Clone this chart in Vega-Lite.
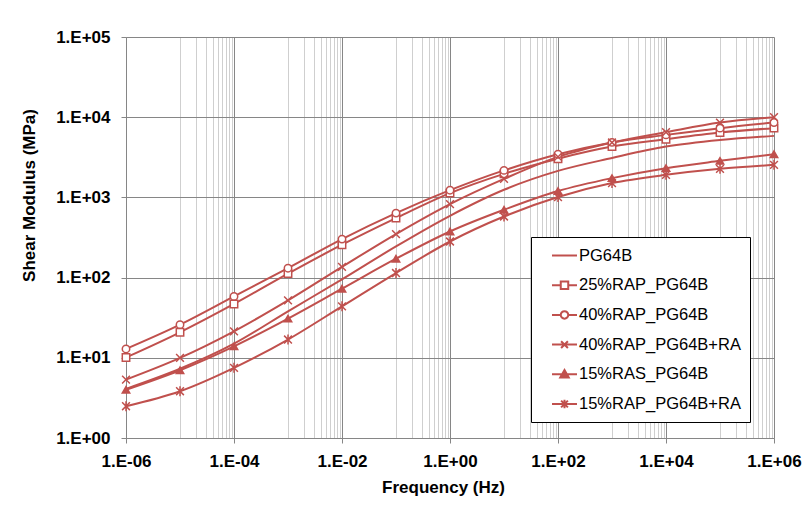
{
  "$schema": "https://vega.github.io/schema/vega-lite/v6.json",
  "width": 648,
  "height": 401,
  "autosize": {"type": "none"},
  "padding": {"left": 126, "top": 37, "right": 38, "bottom": 79},
  "background": "white",
  "config": {
    "view": {"stroke": null},
    "font": "Liberation Sans",
    "axis": {"gridOpacity": 1, "labelFont": "Liberation Sans", "titleFont": "Liberation Sans"},
    "legend": {"labelFont": "Liberation Sans"}
  },
  "data": {
    "values": [
      {"s": "PG64B", "f": 0.000001, "g": 4.1}, {"s": "PG64B", "f": 0.00001, "g": 7.3}, {"s": "PG64B", "f": 0.0001, "g": 15.0}, {"s": "PG64B", "f": 0.001, "g": 38}, {"s": "PG64B", "f": 0.01, "g": 95}, {"s": "PG64B", "f": 0.1, "g": 245}, {"s": "PG64B", "f": 1, "g": 590}, {"s": "PG64B", "f": 10, "g": 1245}, {"s": "PG64B", "f": 100, "g": 2140}, {"s": "PG64B", "f": 1000, "g": 3100}, {"s": "PG64B", "f": 10000, "g": 4300}, {"s": "PG64B", "f": 100000, "g": 5200}, {"s": "PG64B", "f": 1000000, "g": 5850},
      {"s": "25%RAP_PG64B", "f": 0.000001, "g": 10.1}, {"s": "25%RAP_PG64B", "f": 0.00001, "g": 20.8}, {"s": "25%RAP_PG64B", "f": 0.0001, "g": 46.9}, {"s": "25%RAP_PG64B", "f": 0.001, "g": 112}, {"s": "25%RAP_PG64B", "f": 0.01, "g": 257}, {"s": "25%RAP_PG64B", "f": 0.1, "g": 552}, {"s": "25%RAP_PG64B", "f": 1, "g": 1130}, {"s": "25%RAP_PG64B", "f": 10, "g": 1967}, {"s": "25%RAP_PG64B", "f": 100, "g": 3040}, {"s": "25%RAP_PG64B", "f": 1000, "g": 4300}, {"s": "25%RAP_PG64B", "f": 10000, "g": 5320}, {"s": "25%RAP_PG64B", "f": 100000, "g": 6440}, {"s": "25%RAP_PG64B", "f": 1000000, "g": 7300},
      {"s": "40%RAP_PG64B", "f": 0.000001, "g": 12.9}, {"s": "40%RAP_PG64B", "f": 0.00001, "g": 25.9}, {"s": "40%RAP_PG64B", "f": 0.0001, "g": 58.3}, {"s": "40%RAP_PG64B", "f": 0.001, "g": 131}, {"s": "40%RAP_PG64B", "f": 0.01, "g": 302}, {"s": "40%RAP_PG64B", "f": 0.1, "g": 637}, {"s": "40%RAP_PG64B", "f": 1, "g": 1230}, {"s": "40%RAP_PG64B", "f": 10, "g": 2170}, {"s": "40%RAP_PG64B", "f": 100, "g": 3450}, {"s": "40%RAP_PG64B", "f": 1000, "g": 4850}, {"s": "40%RAP_PG64B", "f": 10000, "g": 6020}, {"s": "40%RAP_PG64B", "f": 100000, "g": 7300}, {"s": "40%RAP_PG64B", "f": 1000000, "g": 8570},
      {"s": "40%RAP_PG64B+RA", "f": 0.000001, "g": 5.35}, {"s": "40%RAP_PG64B+RA", "f": 0.00001, "g": 9.97}, {"s": "40%RAP_PG64B+RA", "f": 0.0001, "g": 21.4}, {"s": "40%RAP_PG64B+RA", "f": 0.001, "g": 52}, {"s": "40%RAP_PG64B+RA", "f": 0.01, "g": 136}, {"s": "40%RAP_PG64B+RA", "f": 0.1, "g": 349}, {"s": "40%RAP_PG64B+RA", "f": 1, "g": 825}, {"s": "40%RAP_PG64B+RA", "f": 10, "g": 1700}, {"s": "40%RAP_PG64B+RA", "f": 100, "g": 3200}, {"s": "40%RAP_PG64B+RA", "f": 1000, "g": 4830}, {"s": "40%RAP_PG64B+RA", "f": 10000, "g": 6500}, {"s": "40%RAP_PG64B+RA", "f": 100000, "g": 8570}, {"s": "40%RAP_PG64B+RA", "f": 1000000, "g": 10000},
      {"s": "15%RAS_PG64B", "f": 0.000001, "g": 4.0}, {"s": "15%RAS_PG64B", "f": 0.00001, "g": 7.0}, {"s": "15%RAS_PG64B", "f": 0.0001, "g": 13.9}, {"s": "15%RAS_PG64B", "f": 0.001, "g": 30.8}, {"s": "15%RAS_PG64B", "f": 0.01, "g": 72.7}, {"s": "15%RAS_PG64B", "f": 0.1, "g": 172}, {"s": "15%RAS_PG64B", "f": 1, "g": 376}, {"s": "15%RAS_PG64B", "f": 10, "g": 701}, {"s": "15%RAS_PG64B", "f": 100, "g": 1200}, {"s": "15%RAS_PG64B", "f": 1000, "g": 1740}, {"s": "15%RAS_PG64B", "f": 10000, "g": 2316}, {"s": "15%RAS_PG64B", "f": 100000, "g": 2857}, {"s": "15%RAS_PG64B", "f": 1000000, "g": 3460},
      {"s": "15%RAP_PG64B+RA", "f": 0.000001, "g": 2.49}, {"s": "15%RAP_PG64B+RA", "f": 0.00001, "g": 3.83}, {"s": "15%RAP_PG64B+RA", "f": 0.0001, "g": 7.5}, {"s": "15%RAP_PG64B+RA", "f": 0.001, "g": 16.9}, {"s": "15%RAP_PG64B+RA", "f": 0.01, "g": 43.8}, {"s": "15%RAP_PG64B+RA", "f": 0.1, "g": 114}, {"s": "15%RAP_PG64B+RA", "f": 1, "g": 282}, {"s": "15%RAP_PG64B+RA", "f": 10, "g": 578}, {"s": "15%RAP_PG64B+RA", "f": 100, "g": 1010}, {"s": "15%RAP_PG64B+RA", "f": 1000, "g": 1508}, {"s": "15%RAP_PG64B+RA", "f": 10000, "g": 1911}, {"s": "15%RAP_PG64B+RA", "f": 100000, "g": 2270}, {"s": "15%RAP_PG64B+RA", "f": 1000000, "g": 2547}
    ]
  },
  "layer": [
    {
      "mark": {"type": "line", "interpolate": "monotone", "strokeWidth": 2, "color": "#C0504D"},
      "encoding": {
        "x": {
          "field": "f", "type": "quantitative",
          "scale": {"type": "log", "domain": [0.000001, 1000000], "nice": false},
          "axis": {
            "orient": "bottom",
            "values": [0.000001, 0.0001, 0.01, 1, 100, 10000, 1000000],
            "title": "Frequency (Hz)",
            "labelExpr": "'1.E' + (datum.value >= 1 ? '+' : '-') + (abs(round(log(datum.value)/LN10)) < 10 ? '0' : '') + abs(round(log(datum.value)/LN10))",
            "grid": true, "gridColor": "#868686", "domainColor": "#868686", "tickColor": "#868686", "tickSize": 5,
            "labelFontSize": 17, "labelFontWeight": "bold", "labelColor": "black", "labelPadding": 10,
            "labelFlush": false, "labelOverlap": false,
            "titleFontSize": 17, "titleFontWeight": "bold", "titleColor": "black", "titlePadding": 10, "titleX": 317
          }
        },
        "y": {
          "field": "g", "type": "quantitative",
          "scale": {"type": "log", "domain": [1, 100000], "nice": false},
          "axis": {
            "values": [1, 10, 100, 1000, 10000, 100000],
            "title": "Shear Modulus (MPa)",
            "labelExpr": "'1.E' + (datum.value >= 1 ? '+' : '-') + (abs(round(log(datum.value)/LN10)) < 10 ? '0' : '') + abs(round(log(datum.value)/LN10))",
            "grid": true, "gridColor": "#868686", "domainColor": "#868686", "tickColor": "#868686", "tickSize": 5,
            "labelFontSize": 17, "labelFontWeight": "bold", "labelColor": "black", "labelPadding": 11,
            "labelFlush": false, "labelOverlap": false,
            "titleFontSize": 17, "titleFontWeight": "bold", "titleColor": "black", "titlePadding": 17, "titleY": 158
          }
        },
        "detail": {"field": "s"}
      }
    },
    {
      "transform": [{"filter": "datum.s !== 'PG64B'"}],
      "mark": {"type": "point", "filled": true, "size": 55, "opacity": 1, "stroke": "#C0504D", "strokeWidth": 1.5},
      "encoding": {
        "x": {
          "field": "f", "type": "quantitative",
          "scale": {"type": "log", "domain": [0.000001, 1000000], "nice": false},
          "axis": {
            "orient": "bottom",
            "values": [0.00001, 0.00002, 0.00003, 0.00004, 0.00005, 0.00006, 0.00007, 0.00008, 0.00009,
                       0.001, 0.002, 0.003, 0.004, 0.005, 0.006, 0.007, 0.008, 0.009,
                       0.1, 0.2, 0.3, 0.4, 0.5, 0.6, 0.7, 0.8, 0.9,
                       10, 20, 30, 40, 50, 60, 70, 80, 90,
                       1000, 2000, 3000, 4000, 5000, 6000, 7000, 8000, 9000,
                       100000, 200000, 300000, 400000, 500000, 600000, 700000, 800000, 900000],
            "grid": true, "gridColor": "#cfcfcf", "labels": false, "ticks": false, "domain": false, "title": null
          }
        },
        "y": {
          "field": "g", "type": "quantitative",
          "scale": {"type": "log", "domain": [1, 100000], "nice": false}
        },
        "shape": {
          "field": "s", "type": "nominal",
          "scale": {
            "domain": ["25%RAP_PG64B", "40%RAP_PG64B", "40%RAP_PG64B+RA", "15%RAS_PG64B", "15%RAP_PG64B+RA"],
            "range": ["square", "circle", "M-1.05,-1.05L1.05,1.05M-1.05,1.05L1.05,-1.05", "triangle-up", "M-1.05,-1.05L1.05,1.05M-1.05,1.05L1.05,-1.05M0,-1.35V1.35"]
          },
          "legend": null
        },
        "fill": {
          "field": "s", "type": "nominal",
          "scale": {
            "domain": ["25%RAP_PG64B", "40%RAP_PG64B", "40%RAP_PG64B+RA", "15%RAS_PG64B", "15%RAP_PG64B+RA"],
            "range": ["white", "white", "#C0504D", "#C0504D", "#C0504D"]
          },
          "legend": null
        }
      }
    },
    {
      "mark": {"type": "point", "filled": false, "opacity": 0, "color": "#C0504D", "strokeWidth": 2},
      "encoding": {
        "x": {
          "field": "f", "type": "quantitative",
          "scale": {"type": "log", "domain": [0.000001, 1000000], "nice": false},
          "axis": null
        },
        "y": {
          "field": "g", "type": "quantitative",
          "scale": {"type": "log", "domain": [1, 100000], "nice": false}
        },
        "shape": {
          "field": "s", "type": "nominal",
          "scale": {
            "domain": ["PG64B", "25%RAP_PG64B", "40%RAP_PG64B", "40%RAP_PG64B+RA", "15%RAS_PG64B", "15%RAP_PG64B+RA"],
            "range": [
              "M-1.47,0H1.47",
              "M-1.47,0H-0.44M0.44,0H1.47M-0.44,-0.44H0.44V0.44H-0.44Z",
              "M-1.47,0H-0.44M0.44,0H1.47M-0.44,0A0.44,0.44,0,1,0,0.44,0A0.44,0.44,0,1,0,-0.44,0Z",
              "M-1.47,0H1.47M-0.4,-0.4L0.4,0.4M-0.4,0.4L0.4,-0.4",
              "M-1.47,0H1.47M0,-0.5L0.5,0.38H-0.5ZM0,-0.22L0.24,0.2H-0.24Z",
              "M-1.47,0H1.47M-0.4,-0.4L0.4,0.4M-0.4,0.4L0.4,-0.4M0,-0.5V0.5"
            ]
          },
          "legend": {
            "orient": "none", "legendX": 405, "legendY": 200, "title": null, "padding": 9,
            "fillColor": "white", "strokeColor": "black", "cornerRadius": 0,
            "symbolSize": 289, "symbolStrokeWidth": 2, "symbolOpacity": 1, "symbolStrokeColor": "#C0504D",
            "symbolOffset": 15, "labelOffset": 5, "rowPadding": 11.7, "labelLimit": 400,
            "labelFontSize": 16.5, "labelColor": "black", "labelFont": "Liberation Sans"
          }
        }
      }
    }
  ],
  "resolve": {
    "scale": {"shape": "independent", "fill": "independent"},
    "axis": {"x": "independent"}
  }
}
